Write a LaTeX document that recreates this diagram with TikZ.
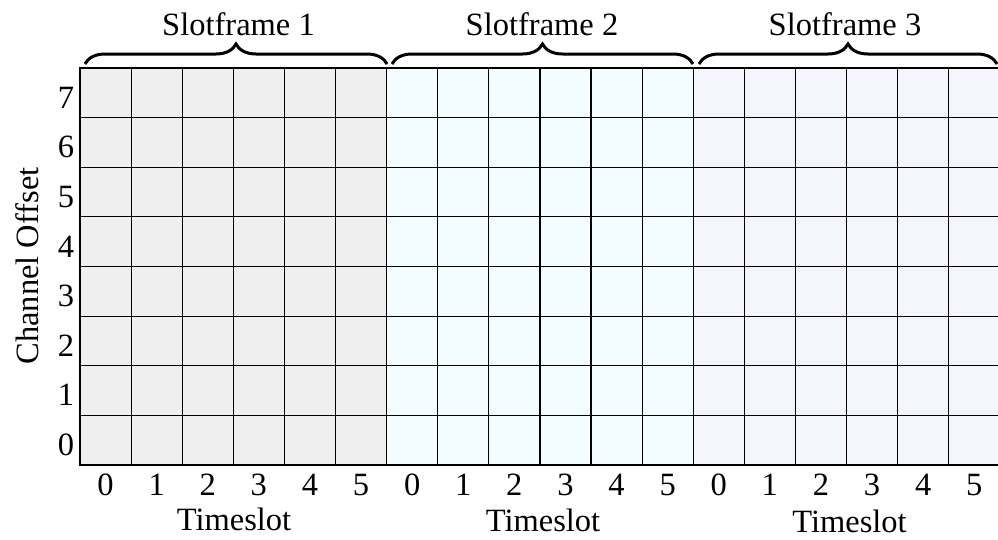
\documentclass[tikz,border=0pt]{standalone}
\usepackage{fontspec}
\setmainfont{Liberation Serif}
\usetikzlibrary{decorations.pathreplacing}
\definecolor{sfA}{RGB}{239,239,239}
\definecolor{sfB}{RGB}{243,252,254}
\definecolor{sfC}{RGB}{245,245,254}
\begin{document}
\begin{tikzpicture}[x=1pt,y=-1pt,
  lbl/.style={font=\fontsize{32.5}{38}\selectfont, inner sep=0pt},
  gridline/.style={draw=black, line width=1.2pt},
  frameline/.style={draw=black, line width=2.6pt},
  bracestyle/.style={draw=black, line width=3pt, decorate, decoration={brace, amplitude=20pt}}]
\useasboundingbox (0,0) rectangle (998,539);
% slotframe fills
\fill[sfA] (80,68) rectangle (386.6,465);
\fill[sfB] (386.6,68) rectangle (693.2,465);
\fill[sfC] (693.2,68) rectangle (1000,465);
% inner grid
\foreach \i in {1,...,17} \draw[gridline] ({80+\i*51.1},68) -- ({80+\i*51.1},465);
\foreach \j in {1,...,7} \draw[gridline] (80,{68+\j*49.625}) -- (1000,{68+\j*49.625});
% outer frame
\draw[frameline] (1000,68) -- (80,68) -- (80,465) -- (1000,465);
% braces
\coordinate (b1s) at (85,64);  \coordinate (b1e) at (387,64);
\coordinate (b2s) at (392,64); \coordinate (b2e) at (693,64);
\coordinate (b3s) at (699,64); \coordinate (b3e) at (997,64);
\draw[bracestyle] (b1s) -- (b1e);
\draw[bracestyle] (b2s) -- (b2e);
\draw[bracestyle] (b3s) -- (b3e);
% titles
\node[lbl, anchor=base] (sf1) at (238.5,35) {Slotframe 1};
\node[lbl, anchor=base] (sf2) at (542,35) {Slotframe 2};
\node[lbl, anchor=base] (sf3) at (845,35) {Slotframe 3};
% channel offsets
\foreach \k in {0,...,7} \node[lbl, anchor=base] (ch\k) at (66,{465-\k*49.625-9.5}) {\k};
% timeslot numbers
\foreach \s in {0,1,2} \foreach \c in {0,...,5}
  \node[lbl, anchor=base] (ts\s\c) at ({80+(6*\s+\c+0.5)*51.1},495) {\c};
% axis labels
\node[lbl, anchor=base] (tl1) at (234,530.5) {Timeslot};
\node[lbl, anchor=base] (tl2) at (543,531) {Timeslot};
\node[lbl, anchor=base] (tl3) at (849.5,532.5) {Timeslot};
\node[lbl, rotate=90] (chl) at (27,266) {Channel Offset};
\end{tikzpicture}
\end{document}
